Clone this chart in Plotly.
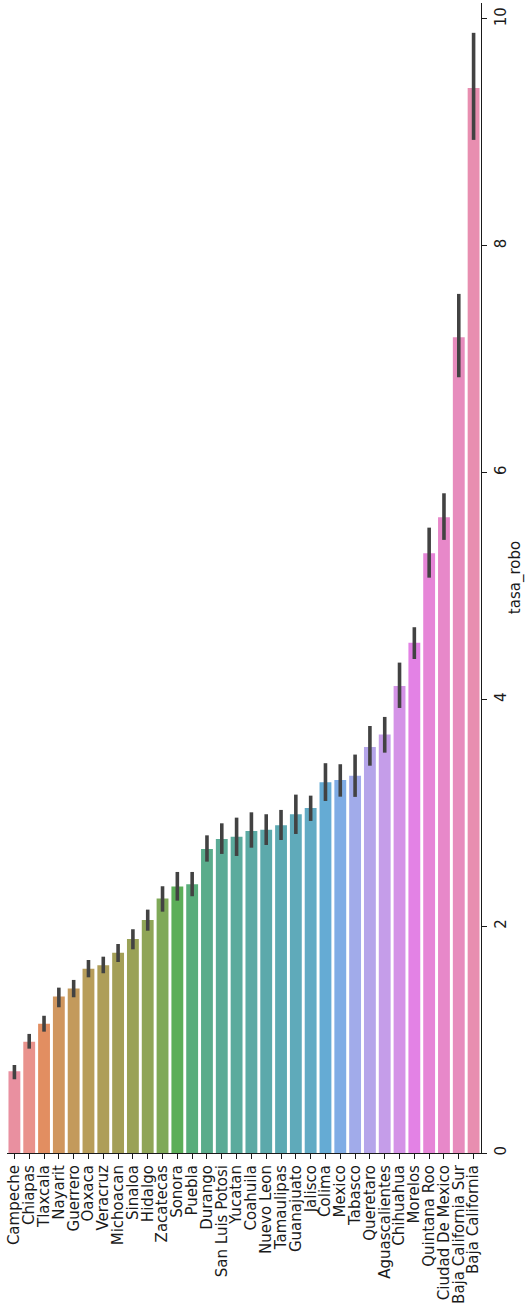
import math
import colorsys
import numpy as np
import plotly.graph_objects as go

# Robbery rate per state: mean with 95% confidence interval bounds
estados = [
    "Campeche", "Chiapas", "Tlaxcala", "Nayarit", "Guerrero", "Oaxaca",
    "Veracruz", "Michoacan", "Sinaloa", "Hidalgo", "Zacatecas", "Sonora",
    "Puebla", "Durango", "San Luis Potosi", "Yucatan", "Coahuila",
    "Nuevo Leon", "Tamaulipas", "Guanajuato", "Jalisco", "Colima", "Mexico",
    "Tabasco", "Queretaro", "Aguascalientes", "Chihuahua", "Morelos",
    "Quintana Roo", "Ciudad De Mexico", "Baja California Sur", "Baja California",
]
tasa_media = [
    0.72, 0.98, 1.14, 1.38, 1.45, 1.625, 1.655, 1.765, 1.887, 2.055, 2.243,
    2.349, 2.369, 2.681, 2.769, 2.789, 2.84, 2.851, 2.89, 2.987, 3.042, 3.269,
    3.289, 3.327, 3.58, 3.689, 4.118, 4.50, 5.288, 5.606, 7.193, 9.39,
]
ci_inferior = [
    0.65, 0.92, 1.07, 1.285, 1.373, 1.549, 1.585, 1.684, 1.796, 1.96, 2.128,
    2.225, 2.264, 2.569, 2.637, 2.619, 2.692, 2.716, 2.76, 2.813, 2.928, 3.104,
    3.142, 3.14, 3.415, 3.53, 3.924, 4.356, 5.073, 5.406, 6.84, 8.933,
]
ci_superior = [
    0.776, 1.05, 1.21, 1.458, 1.526, 1.702, 1.731, 1.843, 1.973, 2.146, 2.352,
    2.478, 2.478, 2.801, 2.907, 2.957, 3.004, 2.987, 3.025, 3.16, 3.151, 3.437,
    3.428, 3.513, 3.765, 3.845, 4.324, 4.636, 5.514, 5.817, 7.575, 9.877,
]
ticks_valor = [0, 2, 4, 6, 8, 10]

# ---- HUSL palette (same maths as seaborn's husl_palette) ----
_M = [[3.2406, -1.5372, -0.4986],
      [-0.9689, 1.8758, 0.0415],
      [0.0557, -0.2040, 1.0570]]
_REF_U, _REF_V = 0.19784, 0.46834


def _max_chroma(L, H):
    hrad = math.radians(H)
    sinH, cosH = math.sin(hrad), math.cos(hrad)
    sub1 = (L + 16) ** 3 / 1560896.0
    sub2 = sub1 if sub1 > 0.008856 else L / 903.3
    result = float("inf")
    for m1, m2, m3 in _M:
        top = (0.99915 * m1 + 1.05122 * m2 + 1.14460 * m3) * sub2
        rbottom = 0.86330 * m3 - 0.17266 * m2
        lbottom = 0.12949 * m3 - 0.38848 * m1
        bottom = (rbottom * sinH + lbottom * cosH) * sub2
        for t in (0.0, 1.0):
            C = L * (top - 1.05122 * t) / (bottom + 0.17266 * sinH * t)
            if 0.0 < C < result:
                result = C
    return result


def _husl_to_rgb(H, S, L):
    C = _max_chroma(L, H) / 100.0 * S
    hr = math.radians(H)
    U, V = math.cos(hr) * C, math.sin(hr) * C
    t = (L + 16.0) / 116.0
    Y = t ** 3 if t ** 3 > 0.008856 else (116.0 * t - 16.0) / 903.3
    varU = U / (13.0 * L) + _REF_U
    varV = V / (13.0 * L) + _REF_V
    X = 0.0 - (9.0 * Y * varU) / ((varU - 4.0) * varV - varU * varV)
    Z = (9.0 * Y - 15.0 * varV * Y - varV * X) / (3.0 * varV)
    out = []
    for row in _M:
        c = row[0] * X + row[1] * Y + row[2] * Z
        c = 12.92 * c if c <= 0.0031308 else 1.055 * c ** (1 / 2.4) - 0.055
        out.append(min(max(c, 0.0), 1.0))
    return out


def husl_palette(n, h=0.01, s=0.9, l=0.65, desat=0.75):
    hues = (np.linspace(0, 1, n + 1)[:-1] + h) % 1 * 359
    cols = []
    for hue in hues:
        r, g, b = _husl_to_rgb(hue, s * 99, l * 99)
        hh, ll, ss = colorsys.rgb_to_hls(r, g, b)
        r, g, b = colorsys.hls_to_rgb(hh, ll, ss * desat)
        cols.append("rgb(%d,%d,%d)" % (round(r * 255), round(g * 255), round(b * 255)))
    return cols


colores = husl_palette(len(estados))
media = np.array(tasa_media)
err_mas = np.array(ci_superior) - media
err_menos = media - np.array(ci_inferior)

FUENTE = "DejaVu Sans"
TEXTO = "#1a1a1a"

fig = go.Figure(
    go.Bar(
        x=estados,
        y=tasa_media,
        marker=dict(color=colores, opacity=0.88, line=dict(width=0)),
        width=0.8,
        error_y=dict(
            type="data", symmetric=False,
            array=err_mas, arrayminus=err_menos,
            width=0, thickness=3.6, color="#424242",
        ),
        showlegend=False,
    )
)

fig.update_layout(
    width=528, height=1313,
    margin=dict(l=7, r=47, t=3, b=160),
    paper_bgcolor="white", plot_bgcolor="white",
    font=dict(family=FUENTE, size=15, color=TEXTO),
)
fig.update_xaxes(
    type="category", range=[-0.5, len(estados) - 0.5],
    tickmode="array", tickvals=estados, ticktext=estados,
    tickangle=-90, ticks="outside", ticklen=5, tickwidth=1, tickcolor=TEXTO,
    showline=True, linecolor=TEXTO, linewidth=1.2, showgrid=False,
    tickfont=dict(family=FUENTE, size=15, color=TEXTO),
    automargin=False,
)
fig.update_yaxes(
    side="right", range=[0, 10.14],
    tickvals=ticks_valor, ticktext=[str(v) for v in ticks_valor],
    tickangle=-90, ticks="outside", ticklen=5, tickwidth=1, tickcolor=TEXTO,
    ticklabelstandoff=1,
    showline=True, linecolor=TEXTO, linewidth=1.2, showgrid=False, zeroline=False,
    tickfont=dict(family=FUENTE, size=15, color=TEXTO),
    automargin=False,
)

# value-axis title, placed beside the right-hand tick labels
fig.add_annotation(
    text="tasa_robo", xref="paper", yref="paper",
    x=1.072, y=0.5, xanchor="center", yanchor="middle",
    textangle=-90, showarrow=False,
    font=dict(family=FUENTE, size=15, color=TEXTO),
)

fig.write_html("out.html")
